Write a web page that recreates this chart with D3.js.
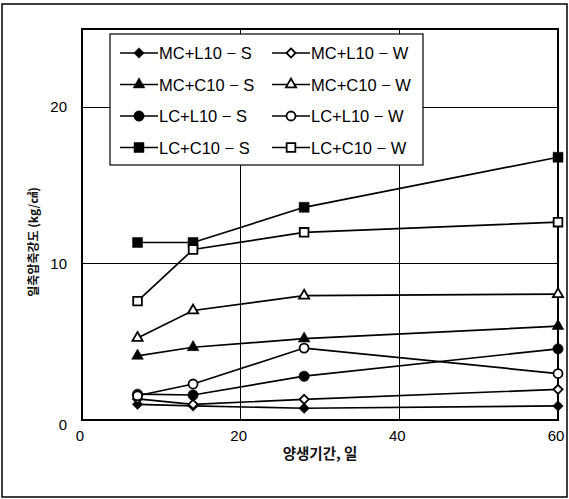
<!DOCTYPE html>
<meta charset="utf-8">
<style>
body { margin: 0; background: #fff; }
svg { font-family: "Liberation Sans", Arial, sans-serif; }
.grid line { stroke: #000; stroke-width: 1; shape-rendering: crispEdges; }
.frame { fill: none; stroke: #000; stroke-width: 1.3; shape-rendering: crispEdges; }
.series .link { fill: none; stroke: #000; stroke-width: 1.7; }
.tick-label { font-size: 15px; fill: #000; }
.legend text { font-size: 16.5px; fill: #000; }
.title { font-family: "Noto Sans CJK KR", sans-serif; font-weight: bold; fill: #111; }
</style>
<body>
<div id="chart"></div>
<script src="https://cdn.jsdelivr.net/npm/d3@7"></script>
<script>

var width = 569,
    height = 499;

// curing days
var days = [7, 14, 28, 60];

var seriesNames = ["MC+L10 − S", "MC+L10 − W", "MC+C10 − S", "MC+C10 − W",
                   "LC+L10 − S", "LC+L10 − W", "LC+C10 − S", "LC+C10 − W"];

// unconfined compressive strength (kg/cm2)
var mcL10S = [1.0, 0.9, 0.75, 0.9];
var mcL10W = [1.35, 1.0, 1.32, 1.96];
var mcC10S = [4.1, 4.65, 5.2, 6.0];
var mcC10W = [5.25, 7.0, 7.95, 8.05];
var lcL10S = [1.65, 1.6, 2.8, 4.55];
var lcL10W = [1.55, 2.3, 4.6, 2.97];
var lcC10S = [11.35, 11.35, 13.6, 16.8];
var lcC10W = [7.6, 10.9, 12.0, 12.65];

var xTicks = [0, 20, 40, 60],
    yTicks = [0, 10, 20];

var series = [
  {name: seriesNames[0], values: mcL10S, shape: "diamond", filled: true},
  {name: seriesNames[1], values: mcL10W, shape: "diamond", filled: false},
  {name: seriesNames[2], values: mcC10S, shape: "triangle", filled: true},
  {name: seriesNames[3], values: mcC10W, shape: "triangle", filled: false},
  {name: seriesNames[4], values: lcL10S, shape: "circle", filled: true},
  {name: seriesNames[5], values: lcL10W, shape: "circle", filled: false},
  {name: seriesNames[6], values: lcC10S, shape: "square", filled: true},
  {name: seriesNames[7], values: lcC10W, shape: "square", filled: false}
];

var plot = {left: 82, right: 558, top: 29, bottom: 420};

var x = d3.scaleLinear().domain([0, 60]).range([plot.left, plot.right]);
var y = d3.scaleLinear().domain([0, 25]).range([plot.bottom, plot.top]);

// square diamond (rotated square) like the original markers
var squareDiamond = {
  draw: function(context, size) {
    var r = Math.sqrt(size / 2);
    context.moveTo(0, -r);
    context.lineTo(r, 0);
    context.lineTo(0, r);
    context.lineTo(-r, 0);
    context.closePath();
  }
};

var symbolTypes = {
  diamond: squareDiamond,
  triangle: d3.symbolTriangle,
  circle: d3.symbolCircle,
  square: d3.symbolSquare
};
var symbolSizes = {diamond: 55, triangle: 60, circle: 85, square: 100};

function marker(sel, s) {
  var size = s.filled ? symbolSizes[s.shape] : symbolSizes[s.shape] * 0.75;
  sel.append("path")
      .attr("d", d3.symbol().type(symbolTypes[s.shape]).size(size)())
      .attr("fill", s.filled ? "#000" : "#fff")
      .attr("stroke", "#000")
      .attr("stroke-width", s.filled ? 0.5 : 1.8);
}

var svg = d3.select("#chart").append("svg")
    .attr("width", width)
    .attr("height", height);

// outer border
svg.append("rect")
    .attr("x", 2).attr("y", 4)
    .attr("width", 565).attr("height", 493)
    .attr("fill", "none")
    .attr("stroke", "#000")
    .attr("stroke-width", 1.5);

// grid lines
var grid = svg.append("g").attr("class", "grid");
grid.selectAll(".gx")
    .data(xTicks.filter(function(d) { return d > 0 && d < 60; }))
  .enter().append("line")
    .attr("x1", function(d) { return x(d); }).attr("x2", function(d) { return x(d); })
    .attr("y1", plot.top).attr("y2", plot.bottom);
grid.selectAll(".gy")
    .data(yTicks.filter(function(d) { return d > 0; }))
  .enter().append("line")
    .attr("x1", plot.left).attr("x2", plot.right)
    .attr("y1", function(d) { return y(d); }).attr("y2", function(d) { return y(d); });

svg.append("rect")
    .attr("class", "frame")
    .attr("x", plot.left).attr("y", plot.top)
    .attr("width", plot.right - plot.left)
    .attr("height", plot.bottom - plot.top);

// tick labels
svg.selectAll(".xl")
    .data(xTicks)
  .enter().append("text")
    .attr("class", "tick-label")
    .attr("x", function(d) { return x(d) - 2; })
    .attr("y", 441)
    .attr("text-anchor", "middle")
    .text(function(d) { return d; });

svg.selectAll(".yl")
    .data(yTicks)
  .enter().append("text")
    .attr("class", "tick-label")
    .attr("x", 67)
    .attr("y", function(d) { return y(d) + (d === 0 ? 10 : 5); })
    .attr("text-anchor", "end")
    .text(function(d) { return d; });

// axis titles
svg.append("text")
    .attr("class", "title")
    .attr("x", 320).attr("y", 459)
    .attr("text-anchor", "middle")
    .style("font-size", "14.5px")
    .text("양생기간, 일");

svg.append("text")
    .attr("class", "title")
    .attr("transform", "translate(38,242) rotate(-90)")
    .attr("text-anchor", "middle")
    .style("font-size", "12px")
    .text("일축압축강도 (kg/㎠)");

// series
var line = d3.line()
    .x(function(d) { return x(d[0]); })
    .y(function(d) { return y(d[1]); });

var g = svg.selectAll(".series")
    .data(series)
  .enter().append("g")
    .attr("class", "series");

g.append("path")
    .attr("class", "link")
    .attr("d", function(s) { return line(days.map(function(d, i) { return [d, s.values[i]]; })); });

g.each(function(s) {
  var gs = d3.select(this);
  days.forEach(function(d, i) {
    var m = gs.append("g").attr("transform", "translate(" + x(d) + "," + y(s.values[i]) + ")");
    marker(m, s);
  });
});

// legend
var legend = svg.append("g").attr("class", "legend");
legend.append("rect")
    .attr("x", 110).attr("y", 34)
    .attr("width", 313).attr("height", 131)
    .attr("fill", "#fff")
    .attr("stroke", "#000")
    .attr("stroke-width", 1.2);

var items = legend.selectAll(".item")
    .data(series)
  .enter().append("g")
    .attr("class", "item")
    .attr("transform", function(d, i) {
      var col = i % 2, row = Math.floor(i / 2);
      return "translate(" + (col === 0 ? 120 : 272) + "," + (53 + row * 31.5) + ")";
    });

items.append("line")
    .attr("x1", 0).attr("x2", 38)
    .attr("stroke", "#000").attr("stroke-width", 1.5);

items.each(function(s) {
  var m = d3.select(this).append("g").attr("transform", "translate(19,0)");
  marker(m, s);
});

items.append("text")
    .attr("x", 39)
    .attr("y", 6)
    .text(function(d) { return d.name; });

</script>
</body>
